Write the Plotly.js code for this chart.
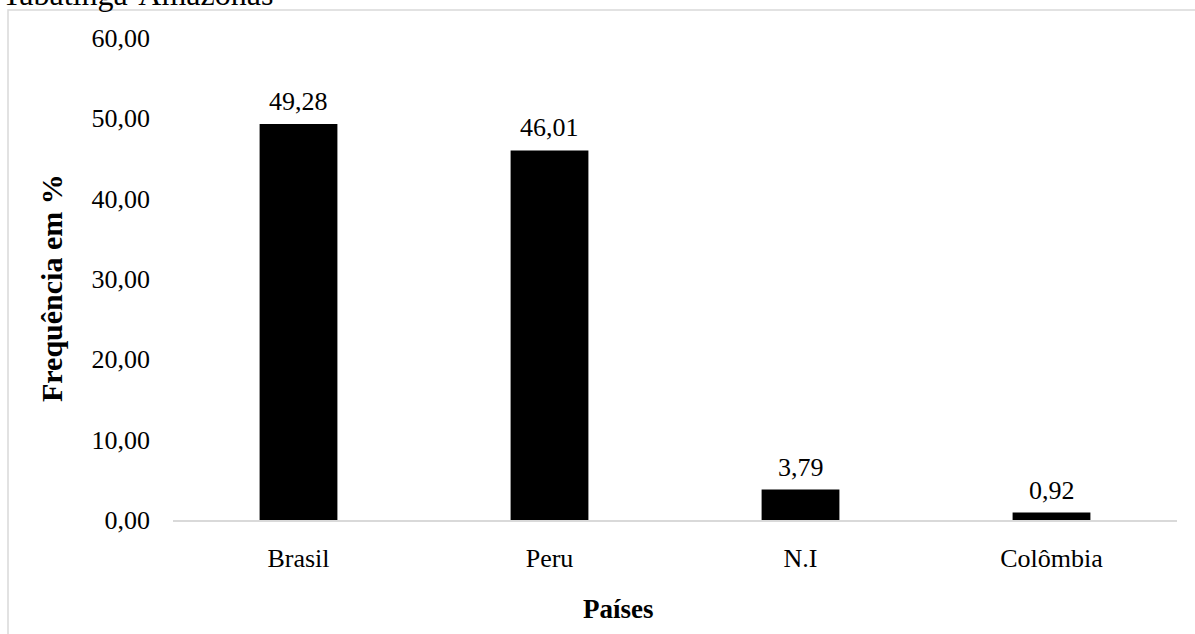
<!DOCTYPE html>
<html>
<head>
<meta charset="utf-8">
<script src="https://cdn.plot.ly/plotly-3.0.1.min.js"></script>
<style>
  html, body { margin: 0; padding: 0; background: #ffffff; }
  #chart { width: 1195px; height: 634px; }
</style>
</head>
<body>
<div id="chart"></div>
<script>
// Origem dos pacientes por país (%)
const paises = ['Brasil', 'Peru', 'N.I', 'Colômbia'];
const frequencia = [49.28, 46.01, 3.79, 0.92];
const yTicks = [0, 10, 20, 30, 40, 50, 60];

const W = 1195, H = 634;
const M = { l: 173, r: 18, t: 38, b: 114 };
const plotW = W - M.l - M.r;
const plotH = H - M.t - M.b;
// pixel position -> paper coordinate
const px = x => (x - M.l) / plotW;
const py = y => (H - M.b - y) / plotH;

const serif = '"Liberation Serif", "Times New Roman", serif';

const fmt = v => v.toFixed(2).replace('.', ',');

const trace = {
  type: 'bar',
  x: paises,
  y: frequencia,
  marker: { color: '#000000', line: { width: 0 } },
  hoverinfo: 'skip'
};

// value labels above each bar
const valueLabels = paises.map((p, i) => ({
  x: p,
  y: frequencia[i],
  xref: 'x',
  yref: 'y',
  text: fmt(frequencia[i]),
  showarrow: false,
  yanchor: 'bottom',
  yshift: 6,
  font: { family: serif, size: 26, color: '#000000' }
}));

const layout = {
  width: W,
  height: H,
  margin: M,
  paper_bgcolor: '#ffffff',
  plot_bgcolor: '#ffffff',
  separators: ',.',
  showlegend: false,
  bargap: 0.69,
  xaxis: {
    type: 'category',
    showgrid: false,
    showline: true,
    linecolor: '#d9d9d9',
    linewidth: 1.5,
    ticks: '',
    ticklabelstandoff: 14,
    tickfont: { family: serif, size: 26, color: '#000000' },
    zeroline: false,
    fixedrange: true
  },
  yaxis: {
    range: [0, 60],
    tickvals: yTicks,
    tickformat: '.2f',
    showgrid: false,
    showline: false,
    zeroline: false,
    ticks: '',
    ticklabelstandoff: 22,
    tickfont: { family: serif, size: 26, color: '#000000' },
    fixedrange: true
  },
  shapes: [
    // outer chart frame (top and left edges visible)
    {
      type: 'rect', xref: 'paper', yref: 'paper',
      x0: px(8), x1: px(1210), y0: py(650), y1: py(10),
      line: { color: '#d9d9d9', width: 1.5 },
      fillcolor: 'rgba(0,0,0,0)',
      layer: 'below'
    }
  ],
  annotations: [
    ...valueLabels,
    {
      text: 'Tabatinga-Amazonas',
      xref: 'paper', yref: 'paper',
      x: px(0), y: py(14),
      xanchor: 'left', yanchor: 'bottom',
      showarrow: false,
      font: { family: serif, size: 32, color: '#000000' }
    },
    {
      text: '<b>Frequência em %</b>',
      xref: 'paper', yref: 'paper',
      x: px(51), y: py(288),
      xanchor: 'center', yanchor: 'middle',
      textangle: -90,
      showarrow: false,
      font: { family: serif, size: 30, color: '#000000' }
    },
    {
      text: '<b>Países</b>',
      xref: 'paper', yref: 'paper',
      x: px(618), y: py(609),
      xanchor: 'center', yanchor: 'middle',
      showarrow: false,
      font: { family: serif, size: 27, color: '#000000' }
    }
  ]
};

Plotly.newPlot('chart', [trace], layout, { displayModeBar: false, staticPlot: true });
</script>
</body>
</html>
